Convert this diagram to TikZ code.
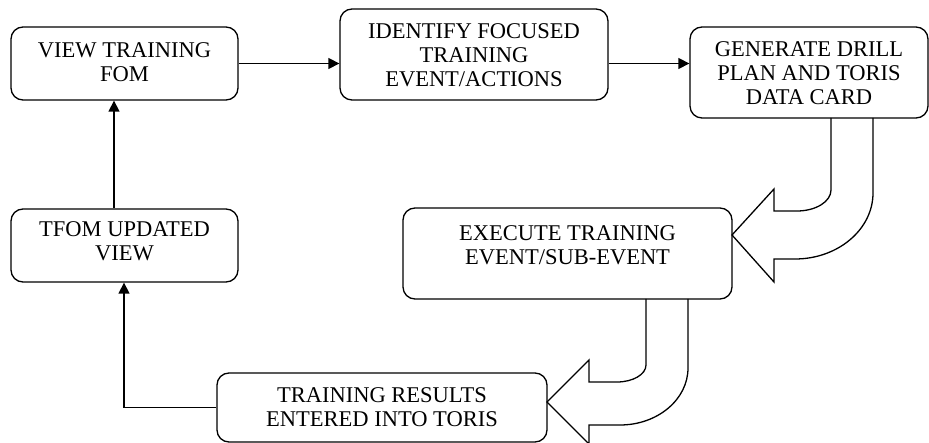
\documentclass[tikz,border=0pt]{standalone}
\usepackage{fontspec}
\setmainfont{Liberation Serif}
\usetikzlibrary{arrows.meta}
\begin{document}
\begin{tikzpicture}[x=1pt,y=-1pt,
  box/.style={draw,line width=1.3pt,rounded corners=12pt,rectangle,inner sep=0pt},
  txt/.style={align=center,inner sep=0pt,font=\fontsize{22.5}{24}\selectfont},
  conn/.style={line width=1.3pt,-{Triangle[length=11pt,width=11pt]}},
  blockarrow/.style={line width=1.3pt,line join=miter}]
\useasboundingbox (0,0) rectangle (929,443);
\begin{scope}
\clip (0,0) rectangle (929,443);
% boxes
\node[box,minimum width=227pt,minimum height=73pt] (b1) at (124.5,63.5) {};
\node[box,minimum width=268pt,minimum height=91pt] (b2) at (474,54.5) {};
\node[box,minimum width=238pt,minimum height=91pt] (b3) at (809,72.5) {};
\node[box,minimum width=227pt,minimum height=73pt] (b4) at (124.5,245.5) {};
\node[box,minimum width=329pt,minimum height=91pt] (b6) at (567.5,253.5) {};
\node[box,minimum width=330pt,minimum height=69pt] (b5) at (382,407.5) {};
% texts
\node[txt] (t1) at (124.5,62) {VIEW TRAINING\\FOM};
\node[txt] (t2) at (474,55.5) {IDENTIFY FOCUSED\\TRAINING\\EVENT/ACTIONS};
\node[txt] (t3) at (809,73) {GENERATE DRILL\\PLAN AND TORIS\\DATA CARD};
\node[txt] (t4) at (124.5,241) {TFOM UPDATED\\VIEW};
\node[txt] (t6) at (567.5,245.5) {EXECUTE TRAINING\\EVENT/SUB-EVENT};
\node[txt] (t5) at (382,407.5) {TRAINING RESULTS\\ENTERED INTO TORIS};
% connectors
\draw[conn] (b1.east) -- (b1.east -| b2.west);
\draw[conn] (b1.east -| b2.east) -- (b1.east -| b3.west);
\coordinate (u1) at (114,0);
\draw[conn] (b4.north -| u1) -- (b1.south -| u1);
\coordinate (u2) at (124,0);
\draw[conn] (b5.west) -- (b5.west -| u2) -- (b4.south -| u2);
% block arrows
\draw[blockarrow] (831,118) -- (831,190) .. controls (831,201.6) and (815.8,211) .. (797,211)
  -- (774,211) -- (774,189) -- (732,235) -- (774,282) -- (774,259) -- (795,259)
  .. controls (838,259) and (873,229.4) .. (873,193) -- (873,118);
\draw[blockarrow] (646,299) -- (646,365) .. controls (646,374.4) and (633,382) .. (617,382)
  -- (589,382) -- (589,360) -- (547,402) -- (589,444) -- (589,425) -- (620,425)
  .. controls (657.5,425) and (688,399.5) .. (688,368) -- (688,299);
\end{scope}
\end{tikzpicture}
\end{document}
